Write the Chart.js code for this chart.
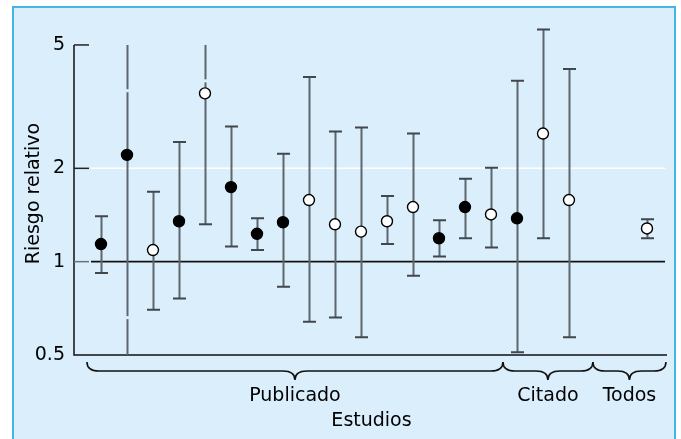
<!DOCTYPE html>
<html>
<head>
<meta charset="utf-8">
<script src="https://cdn.jsdelivr.net/npm/chart.js@4"></script>
<style>
  body { margin: 0; background: #fff; }
  #marco { position: absolute; left: 12px; top: 6px; width: 660px; height: 460px;
           border: 2px solid #45b5e6; background: #dbeefc; }
  #grafico { position: absolute; left: 0; top: 0; }
</style>
</head>
<body>
<div id="marco"></div>
<canvas id="grafico" width="681" height="439"></canvas>
<script>
// Datos
const posiciones = [0, 1, 2, 3, 4, 5, 6, 7, 8, 9, 10, 11, 12, 13, 14, 15, 16, 17, 18, 21];
const riesgo   = [1.14, 2.21, 1.09, 1.35, 3.49, 1.74, 1.23, 1.34, 1.58, 1.32, 1.25, 1.35, 1.50, 1.19, 1.50, 1.42, 1.38, 2.59, 1.58, 1.28];
const inferior = [0.92, 0.50, 0.70, 0.76, 1.32, 1.12, 1.09, 0.83, 0.64, 0.66, 0.57, 1.14, 0.90, 1.04, 1.19, 1.11, 0.51, 1.19, 0.57, 1.19];
const superior = [1.40, 5.00, 1.68, 2.43, 5.00, 2.73, 1.38, 2.23, 3.94, 2.63, 2.71, 1.63, 2.59, 1.36, 1.85, 2.01, 3.83, 5.61, 4.18, 1.37];
const relleno  = [1, 1, 0, 1, 0, 1, 1, 1, 0, 0, 0, 0, 0, 1, 1, 0, 1, 0, 0, 0];
// barras truncadas: sin tope arriba / abajo
const sinTopeSup = [1, 4];
const sinTopeInf = [1];
// cortes en las barras truncadas (indice, valor)
const cortes = [[1, 3.56], [1, 0.66], [4, 3.83]];

const yTicks = [0.5, 1, 2, 5];
const grupos = ['Publicado', 'Citado', 'Todos'];
const grupoDesde = [-0.54, 15.46, 18.92];
const grupoHasta = [15.46, 18.92, 21.73];
const tituloX = 'Estudios';
const tituloY = 'Riesgo relativo';

const fuente = '19px "DejaVu Sans"';

// Plugin para ejes, barras de error y llaves
const dibujo = {
    id: 'dibujo',
    beforeDatasetsDraw(chart) {
        const ctx = chart.ctx;
        const x = chart.scales.x;
        const y = chart.scales.y;
        const izq = chart.chartArea.left;
        const der = chart.chartArea.right;
        ctx.save();

        // linea blanca en 2
        ctx.strokeStyle = '#ffffff';
        ctx.lineWidth = 1.5;
        ctx.beginPath();
        ctx.moveTo(izq + 17, y.getPixelForValue(2));
        ctx.lineTo(der - 2, y.getPixelForValue(2));
        ctx.stroke();

        // linea de referencia en 1
        ctx.strokeStyle = '#111';
        ctx.lineWidth = 1.6;
        ctx.beginPath();
        ctx.moveTo(izq + 17, y.getPixelForValue(1));
        ctx.lineTo(der - 2, y.getPixelForValue(1));
        ctx.stroke();

        // ejes
        ctx.strokeStyle = '#111';
        ctx.lineWidth = 1.5;
        ctx.beginPath();
        ctx.moveTo(izq, y.getPixelForValue(5));
        ctx.lineTo(izq, y.getPixelForValue(0.5));
        ctx.lineTo(der, y.getPixelForValue(0.5));
        ctx.stroke();

        // marcas del eje y
        yTicks.forEach(v => {
            if (v === 0.5) return;
            ctx.strokeStyle = v === 1 ? '#6a737a' : '#222';
            ctx.beginPath();
            ctx.moveTo(izq, y.getPixelForValue(v));
            ctx.lineTo(izq + 15, y.getPixelForValue(v));
            ctx.stroke();
        });

        // barras de error
        posiciones.forEach((p, i) => {
            const px = Math.round(x.getPixelForValue(p)) + 0.5;
            const yTop = y.getPixelForValue(superior[i]);
            const yBot = y.getPixelForValue(inferior[i]);
            ctx.strokeStyle = '#5d666d';
            ctx.lineWidth = 2;
            ctx.beginPath();
            ctx.moveTo(px, yTop);
            ctx.lineTo(px, yBot);
            ctx.stroke();
            ctx.strokeStyle = '#41474c';
            ctx.beginPath();
            if (!sinTopeSup.includes(i)) {
                ctx.moveTo(px - 6.5, yTop);
                ctx.lineTo(px + 6.5, yTop);
            }
            if (!sinTopeInf.includes(i)) {
                ctx.moveTo(px - 6.5, yBot);
                ctx.lineTo(px + 6.5, yBot);
            }
            ctx.stroke();
        });

        // cortes
        ctx.fillStyle = '#dbeefc';
        cortes.forEach(([i, v]) => {
            const px = x.getPixelForValue(posiciones[i]);
            ctx.fillRect(px - 2, y.getPixelForValue(v) - 1.5, 4, 3);
        });
        ctx.restore();
    },
    afterDraw(chart) {
        const ctx = chart.ctx;
        const x = chart.scales.x;
        const area = chart.chartArea;
        ctx.save();

        // llaves
        ctx.strokeStyle = '#111';
        ctx.lineWidth = 1.6;
        const y0 = 362, h = 9;
        ctx.font = fuente;
        ctx.fillStyle = '#000';
        ctx.textAlign = 'center';
        ctx.textBaseline = 'alphabetic';
        grupos.forEach((g, i) => {
            const a = x.getPixelForValue(grupoDesde[i]);
            const b = x.getPixelForValue(grupoHasta[i]);
            const m = (a + b) / 2;
            const r = 12;
            ctx.beginPath();
            ctx.moveTo(a, y0);
            ctx.quadraticCurveTo(a, y0 + h, a + r, y0 + h);
            ctx.lineTo(m - r, y0 + h);
            ctx.quadraticCurveTo(m, y0 + h, m, y0 + 2 * h);
            ctx.quadraticCurveTo(m, y0 + h, m + r, y0 + h);
            ctx.lineTo(b - r, y0 + h);
            ctx.quadraticCurveTo(b, y0 + h, b, y0);
            ctx.stroke();
            ctx.fillText(g, m, 401);
        });

        // titulos
        ctx.fillText(tituloX, (area.left + area.right) / 2 + 1, 426);
        ctx.translate(39, 193.5);
        ctx.rotate(-Math.PI / 2);
        ctx.fillText(tituloY, 0, 0);
        ctx.restore();
    }
};

new Chart(document.getElementById('grafico').getContext('2d'), {
    type: 'scatter',
    data: {
        datasets: [{
            data: posiciones.map((p, i) => ({ x: p, y: riesgo[i] })),
            pointRadius: 5.5,
            pointHoverRadius: 5.5,
            pointBorderWidth: 1.4,
            pointBorderColor: '#000',
            pointBackgroundColor: relleno.map(f => f ? '#000' : '#fff')
        }]
    },
    options: {
        responsive: false,
        animation: false,
        layout: { padding: { top: 11, right: 14, left: 0, bottom: 0 } },
        plugins: { legend: { display: false }, tooltip: { enabled: false } },
        scales: {
            x: {
                type: 'linear',
                min: -1.038,
                max: 21.77,
                grid: { display: false },
                border: { display: false },
                ticks: { display: false },
                afterFit: s => { s.height = 84; }
            },
            y: {
                type: 'logarithmic',
                min: 0.5,
                max: 6,
                grid: { display: false, drawTicks: false },
                border: { display: false },
                afterBuildTicks: s => { s.ticks = yTicks.map(v => ({ value: v })); },
                afterFit: s => { s.width = 74; },
                ticks: {
                    padding: 9,
                    color: '#000',
                    font: { family: 'DejaVu Sans', size: 19 },
                    callback: v => String(v)
                }
            }
        }
    },
    plugins: [dibujo]
});
</script>
</body>
</html>
